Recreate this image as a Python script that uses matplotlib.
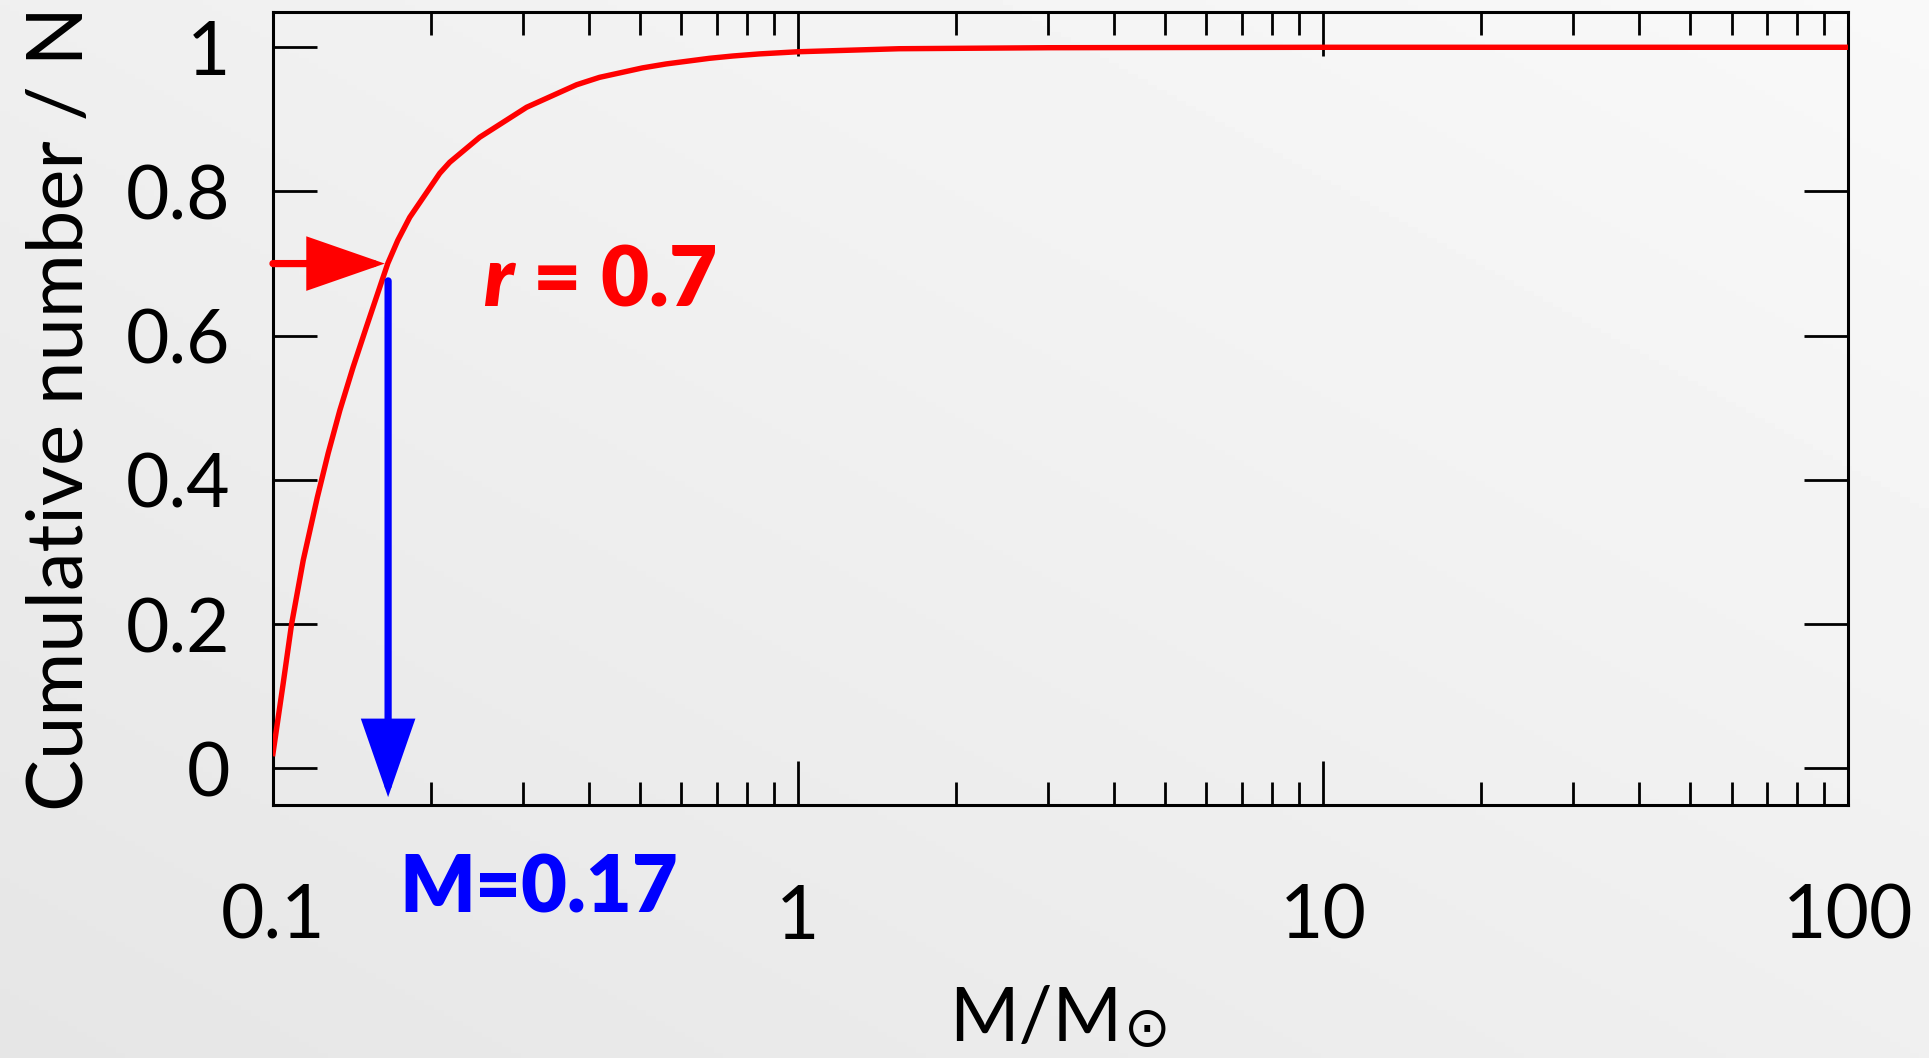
import numpy as np
import matplotlib
matplotlib.use("Agg")
from matplotlib import pyplot as plt
from matplotlib.ticker import LogLocator, NullFormatter
from matplotlib.transforms import blended_transform_factory

# cumulative fraction of stars below M
mass = [0.100, 0.1046, 0.1085, 0.1142, 0.1215, 0.1274, 0.1341, 0.1421, 0.1508,
        0.1655, 0.1729, 0.1822, 0.2078, 0.2171, 0.2476, 0.3042, 0.3787, 0.4188,
        0.5056, 0.561, 0.6782, 0.7512, 0.844, 1.0, 1.558, 3.0, 10.0, 100.0]
cum_frac = [0.0204, 0.1179, 0.1997, 0.2885, 0.3759, 0.4369, 0.4965, 0.5562, 0.6130,
            0.7004, 0.7323, 0.7642, 0.8252, 0.8405, 0.8752, 0.9168, 0.9480, 0.9583,
            0.9714, 0.9769, 0.9847, 0.9879, 0.9908, 0.9938, 0.9980, 0.9994, 1.0, 1.0]

r_value = 0.7        # random number drawn
r_mass = 0.1633      # where the red arrow tip touches the curve
m_mass = 0.1657      # where the blue arrow drops down
r_label = r"$r$ = 0.7"
m_label = "M=0.17"

x_ticks = [0.1, 1, 10, 100]
x_ticklabels = ["0.1", "1", "10", "100"]
y_ticks = [0, 0.2, 0.4, 0.6, 0.8, 1]
y_ticklabels = ["0", "0.2", "0.4", "0.6", "0.8", "1"]

plt.rcParams['font.family'] = ['Lato', 'DejaVu Sans']
plt.rcParams['mathtext.fontset'] = 'custom'
plt.rcParams['mathtext.rm'] = 'Lato'
plt.rcParams['mathtext.it'] = 'Lato:italic:heavy'

fig = plt.figure(figsize=(19.29, 10.58), dpi=100)

# light grey gradient behind everything
bg = fig.add_axes([0, 0, 1, 1], zorder=-10)
gx, gy = np.meshgrid(np.linspace(0, 1, 200), np.linspace(0, 1, 200))
bg.imshow(0.90 + 0.075 * (0.5 * gx + 0.5 * gy), cmap='gray', vmin=0, vmax=1,
          origin='lower', aspect='auto', extent=[0, 1, 0, 1])
bg.axis('off')

ax = fig.add_axes([0.1415, 0.2391, 0.8165, 0.7496])
ax.set_facecolor('none')

ax.plot(mass, cum_frac, color='#ff0000', lw=3.9, zorder=3, solid_joinstyle='round')

ax.set_xscale('log')
ax.set_xlim(0.1, 100)
ax.set_ylim(-0.051, 1.049)

ax.set_xticks(x_ticks)
ax.set_xticklabels(x_ticklabels)
ax.xaxis.set_minor_locator(LogLocator(base=10, subs=range(2, 10)))
ax.xaxis.set_minor_formatter(NullFormatter())
ax.set_yticks(y_ticks)
ax.set_yticklabels(y_ticklabels)

ax.tick_params(which='both', direction='in', top=True, right=True, width=2, color='black')
ax.tick_params(which='major', length=31.5, labelsize=54)
ax.tick_params(which='minor', length=16.5)
ax.tick_params(axis='x', which='major', pad=56)
ax.tick_params(axis='y', which='major', pad=31)
for s in ax.spines.values():
    s.set_linewidth(2.2)

ax.set_ylabel("Cumulative number / N", fontsize=56, va='center')
ax.yaxis.set_label_coords(-0.134, 0.5)
ax.set_xlabel("M/M", fontsize=54, va='baseline')
ax.xaxis.set_label_coords(0.4844, -0.297)
# solar symbol as a subscript, hung off the right edge of the label
ax.annotate("\u2299", xy=(1, 0), xycoords=ax.xaxis.label, xytext=(1, 16),
            textcoords='offset points', fontsize=40, family='DejaVu Sans',
            ha='left', va='center', annotation_clip=False)

# arrows: random number -> curve -> mass
head = '-|>,head_length=46,head_width=16'
ax.annotate('', xy=(r_mass, r_value), xytext=(0.1, r_value),
            arrowprops=dict(arrowstyle=head, mutation_scale=1, joinstyle='miter',
                            color='#ff0000', lw=5.2, shrinkA=0, shrinkB=0), zorder=4)
ax.annotate('', xy=(m_mass, -0.040), xytext=(m_mass, 0.676),
            arrowprops=dict(arrowstyle=head, mutation_scale=1, joinstyle='miter',
                            color='#0000ff', lw=5.2, shrinkA=0, shrinkB=0), zorder=4)

ax.text(0.2508, 0.642, r_label, color='#ff0000', fontsize=60, fontweight='heavy',
        ha='left', va='baseline')
trans = blended_transform_factory(ax.transData, ax.transAxes)
ax.text(0.3206, -0.135, m_label, color='#0000ff', fontsize=57, fontweight='heavy',
        ha='center', va='baseline', transform=trans, clip_on=False)

fig.savefig("out.png", dpi=100)
